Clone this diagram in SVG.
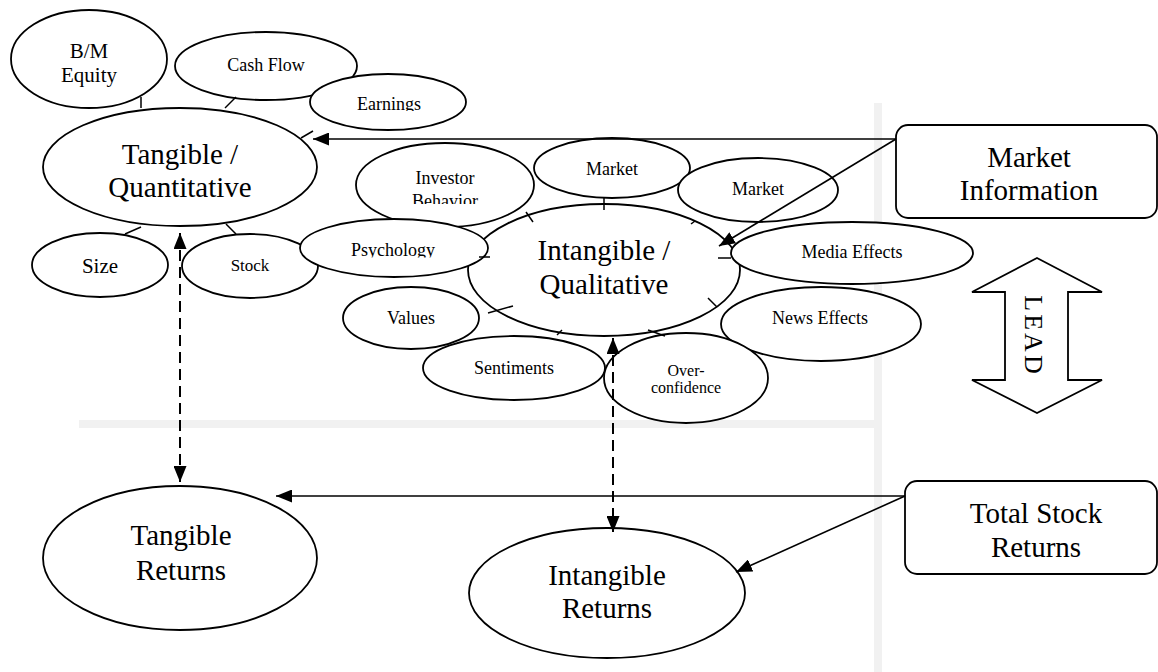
<svg xmlns="http://www.w3.org/2000/svg" width="1158" height="672" viewBox="0 0 1158 672">
<style>
.n{fill:#fff;stroke:#000;stroke-width:1.8}
.t{font-family:"Liberation Serif","Times New Roman",serif;fill:#000;text-anchor:middle}
.c{fill:none;stroke:#000;stroke-width:1.6}
.d{fill:none;stroke:#000;stroke-width:2;stroke-dasharray:11 6}
.k{stroke:#000;stroke-width:1.5}
.g{fill:#f1f1f1}
</style>
<defs>
<marker id="ah" markerUnits="userSpaceOnUse" markerWidth="17" markerHeight="13" refX="16" refY="6.5" orient="auto-start-reverse">
<path d="M0,0 L16,6.5 L0,13 z" fill="#000" stroke="none"/>
</marker>
<clipPath id="clipEarn"><rect x="300" y="60" width="180" height="51"/></clipPath>
<clipPath id="clipBeh"><rect x="350" y="140" width="190" height="64"/></clipPath>
<clipPath id="clipPsy"><rect x="300" y="215" width="190" height="42.5"/></clipPath>
</defs>
<rect class="g" x="874" y="103" width="8" height="569"/>
<rect class="g" x="79" y="420" width="795" height="8"/>

<g id="bm-equity"><ellipse class="n" cx="89" cy="59" rx="78" ry="49"/><text class="t" font-size="21" x="89" y="58">B/M</text><text class="t" font-size="21" x="89" y="82">Equity</text></g>
<g id="cash-flow"><ellipse class="n" cx="266" cy="66" rx="91" ry="34"/><text class="t" font-size="18" x="266" y="71">Cash Flow</text></g>
<g id="earnings"><ellipse class="n" cx="388" cy="102" rx="78" ry="28"/><text class="t" font-size="18" x="389" y="110" clip-path="url(#clipEarn)">Earnings</text></g>
<g id="tangible-quant"><ellipse class="n" cx="180" cy="167" rx="137" ry="59"/><text class="t" font-size="29" x="180" y="164">Tangible /</text><text class="t" font-size="29" x="180" y="197">Quantitative</text></g>
<g id="size"><ellipse class="n" cx="100" cy="265" rx="68" ry="32"/><text class="t" font-size="21" x="100" y="273">Size</text></g>
<g id="stock"><ellipse class="n" cx="250" cy="266" rx="68" ry="32"/><text class="t" font-size="17" x="250" y="271">Stock</text></g>

<g id="intangible-qual"><ellipse class="n" cx="604" cy="270" rx="136" ry="66"/><text class="t" font-size="29" x="604" y="260">Intangible /</text><text class="t" font-size="29" x="604" y="294">Qualitative</text></g>
<g id="investor-behavior"><ellipse class="n" cx="445" cy="185" rx="89" ry="42"/><text class="t" font-size="18" x="445" y="184">Investor</text><text class="t" font-size="18" x="445" y="207" clip-path="url(#clipBeh)">Behavior</text></g>
<g id="psychology"><ellipse class="n" cx="394" cy="248" rx="94" ry="29"/><text class="t" font-size="18" x="393" y="256" clip-path="url(#clipPsy)">Psychology</text></g>
<g id="market-1"><ellipse class="n" cx="612" cy="168" rx="78" ry="30"/><text class="t" font-size="18" x="612" y="175">Market</text></g>
<g id="market-2"><ellipse class="n" cx="758" cy="190" rx="80" ry="32"/><text class="t" font-size="18" x="758" y="195">Market</text></g>
<g id="media-effects"><ellipse class="n" cx="852" cy="253" rx="121" ry="31"/><text class="t" font-size="18" x="852" y="258">Media Effects</text></g>
<g id="news-effects"><ellipse class="n" cx="821" cy="324" rx="100" ry="37"/><text class="t" font-size="18" x="820" y="324">News Effects</text></g>
<g id="values"><ellipse class="n" cx="411" cy="318" rx="68" ry="31"/><text class="t" font-size="18" x="411" y="324">Values</text></g>
<g id="sentiments"><ellipse class="n" cx="514" cy="368" rx="91" ry="32"/><text class="t" font-size="18" x="514" y="374">Sentiments</text></g>
<g id="overconfidence"><ellipse class="n" cx="686" cy="378" rx="82" ry="45"/><text class="t" font-size="16" x="686" y="376">Over-</text><text class="t" font-size="16" x="686" y="393">confidence</text></g>

<g id="market-information"><rect class="n" x="896" y="125" width="261" height="93" rx="12"/><text class="t" font-size="29" x="1029" y="167">Market</text><text class="t" font-size="29" x="1029" y="200">Information</text></g>
<g id="lead"><polygon class="n" points="1037,258 1102,292 1068,292 1068,380 1102,380 1037,413 972,380 1005,380 1005,292 972,292"/><text class="t" font-size="26" letter-spacing="3" transform="translate(1025,336) rotate(90)" x="0" y="0">LEAD</text></g>
<g id="tangible-returns"><ellipse class="n" cx="180" cy="558" rx="137" ry="72"/><text class="t" font-size="29" x="181" y="545">Tangible</text><text class="t" font-size="29" x="181" y="580">Returns</text></g>
<g id="intangible-returns"><ellipse class="n" cx="607" cy="593" rx="138" ry="65"/><text class="t" font-size="29" x="607" y="585">Intangible</text><text class="t" font-size="29" x="607" y="618">Returns</text></g>
<g id="total-stock-returns"><rect class="n" x="905" y="481" width="252" height="93" rx="12"/><text class="t" font-size="29" x="1036" y="523">Total Stock</text><text class="t" font-size="29" x="1036" y="557">Returns</text></g>

<g id="connectors">
<path class="c" d="M896,139 L313,139" marker-end="url(#ah)"/>
<path class="c" d="M896,139 L719,246" marker-end="url(#ah)"/>
<path class="c" d="M905,496 L276,496" marker-end="url(#ah)"/>
<path class="c" d="M905,496 L736,572" marker-end="url(#ah)"/>
<path class="d" d="M180,233 L180,482" marker-start="url(#ah)" marker-end="url(#ah)"/>
<path class="d" d="M613,338 L613,532" marker-start="url(#ah)" marker-end="url(#ah)"/>
<line class="k" x1="141" y1="97" x2="141" y2="108"/>
<line class="k" x1="236" y1="97" x2="225" y2="108"/>
<line class="k" x1="313" y1="131" x2="301" y2="138"/>
<line class="k" x1="141" y1="227" x2="125" y2="234"/>
<line class="k" x1="226" y1="224" x2="236" y2="234"/>
<line class="k" x1="526" y1="212" x2="533" y2="222"/>
<line class="k" x1="604" y1="198" x2="604" y2="210"/>
<line class="k" x1="691" y1="224" x2="695" y2="221"/>
<line class="k" x1="479" y1="257" x2="490" y2="257"/>
<line class="k" x1="718" y1="258" x2="731" y2="258"/>
<line class="k" x1="488" y1="313" x2="513" y2="306"/>
<line class="k" x1="557" y1="335" x2="562" y2="330"/>
<line class="k" x1="648" y1="330" x2="665" y2="336"/>
<line class="k" x1="708" y1="298" x2="717" y2="307"/>
</g>
</svg>
